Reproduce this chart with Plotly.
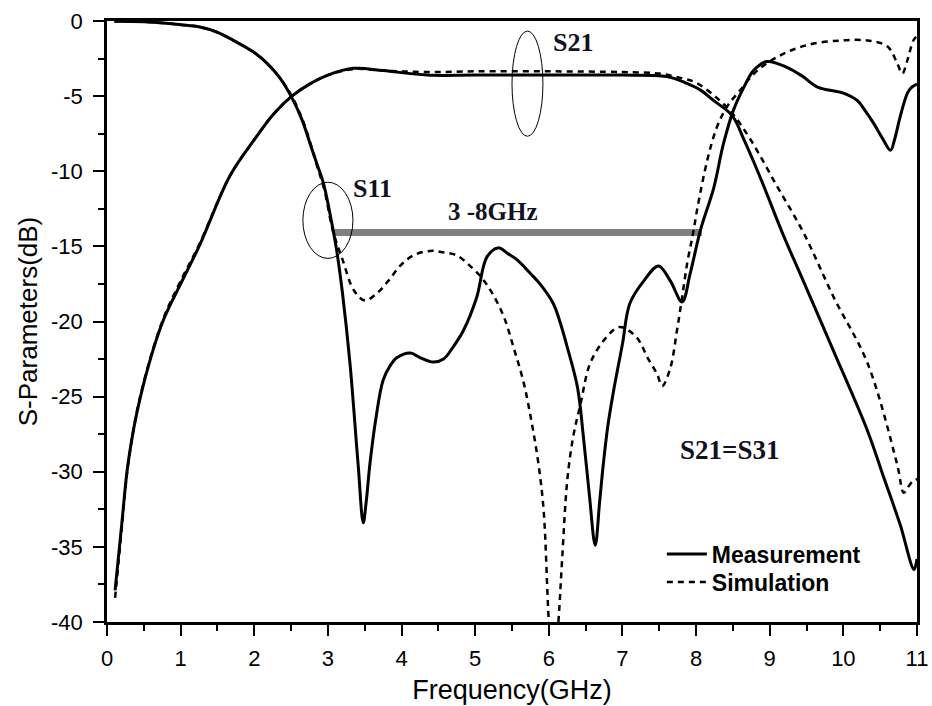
import plotly.graph_objects as go

# ---------------- data ----------------
s21_meas_f = [0.11, 0.2, 0.29, 0.45, 0.75, 1.0, 1.26, 1.67, 2.0, 2.26, 2.51, 2.75, 3.0, 3.35,
              3.75, 4.35, 5.0, 6.0, 7.0, 7.6, 7.85, 8.06, 8.24, 8.49, 8.65, 8.87, 9.18, 9.42, 9.87, 10.33,
              10.55, 10.77, 10.96, 11.0]
s21_meas_db = [-37.9, -33.5, -29.3, -25.1, -20.1, -17.5, -14.9, -10.3, -7.9, -6.2, -5.0, -4.2, -3.6, -3.15,
               -3.3, -3.6, -3.6, -3.6, -3.6, -3.7, -4.1, -4.6, -5.3, -6.3, -7.9, -10.4, -14.2, -16.9, -22.0, -27.3,
               -30.4, -33.5, -36.5, -35.8]

s21_sim_f = [0.11, 0.2, 0.29, 0.45, 0.75, 1.0, 1.26, 1.67, 2.0, 2.26, 2.51, 2.75, 3.0, 3.35, 3.75,
             4.35, 5.0, 6.0, 7.0, 7.5, 7.8, 8.0, 8.3, 8.5, 8.74, 9.1, 9.46, 9.87, 10.33, 10.73, 10.82, 10.88,
             10.95, 11.0]
s21_sim_db = [-38.4, -33.8, -29.4, -25.0, -20.0, -17.3, -14.8, -10.3, -7.9, -6.2, -5.0, -4.2, -3.6, -3.2, -3.3,
              -3.4, -3.35, -3.35, -3.4, -3.5, -3.8, -4.1, -5.2, -6.2, -7.9, -11.0, -14.1, -18.4, -22.8, -29.5, -31.4,
              -31.0, -30.6, -30.5]

s11_meas_f = [0.1, 0.5, 0.8, 1.0, 1.26, 1.5, 1.71, 2.0, 2.17, 2.35, 2.51, 2.65, 2.76, 2.85, 2.94, 3.07, 3.12,
              3.2, 3.3, 3.41, 3.48, 3.52, 3.57, 3.65, 3.75, 3.85, 3.94, 4.12, 4.25, 4.43, 4.57, 4.7, 4.84, 5.02,
              5.16, 5.31, 5.45, 5.57, 5.75, 5.88, 6.06, 6.15, 6.25, 6.39, 6.47, 6.55, 6.63, 6.69, 6.74, 6.8,
              6.88, 7.0, 7.1, 7.29, 7.49, 7.65, 7.81, 7.92, 8.06, 8.24, 8.37, 8.51, 8.65, 8.78, 8.96, 9.24,
              9.45, 9.65, 10.0, 10.19, 10.3, 10.41, 10.53, 10.64, 10.7, 10.77, 10.87, 10.93, 11.0]
s11_meas_db = [-0.02, -0.05, -0.15, -0.25, -0.4, -0.75, -1.27, -2.1, -2.8, -3.8, -5.1, -6.6, -8.2, -9.5, -10.8, -13.9, -15.3,
               -18.2, -22.8, -29.5, -33.4, -32.0, -29.5, -26.5, -23.9, -22.9, -22.4, -22.1, -22.4, -22.7, -22.5, -21.7, -20.6, -18.4,
               -15.7, -15.1, -15.5, -15.9, -16.8, -17.5, -18.8, -20.0, -21.7, -24.4, -27.7, -31.5, -34.9, -32.0, -29.5, -27.0,
               -24.6, -21.5, -18.8, -17.3, -16.3, -17.3, -18.7, -16.8, -13.9, -11.1, -8.2, -5.9, -4.4, -3.3, -2.7, -3.1,
               -3.7, -4.4, -4.8, -5.3, -6.0, -6.8, -7.8, -8.6, -7.8, -6.4, -4.8, -4.4, -4.2]

s11_sim_f = [0.1, 0.5, 0.8, 1.0, 1.26, 1.5, 1.71, 2.0, 2.17, 2.35, 2.51, 2.65, 2.76, 2.85, 2.95, 3.07, 3.2,
             3.35, 3.5, 3.67, 3.82, 3.98, 4.16, 4.39, 4.57, 4.75, 4.93, 5.09, 5.23, 5.39, 5.52, 5.66, 5.77,
             5.86, 5.93, 6.0, 6.06, 6.13, 6.18, 6.25, 6.33, 6.43, 6.56, 6.74, 6.93, 7.01, 7.2, 7.34, 7.47,
             7.54, 7.65, 7.74, 7.81, 7.88, 7.96, 8.02, 8.15, 8.28, 8.42, 8.6, 8.83, 9.14, 9.51, 9.96, 10.33,
             10.6, 10.73, 10.8, 10.87, 10.95, 11.0]
s11_sim_db = [-0.02, -0.05, -0.15, -0.25, -0.4, -0.75, -1.27, -2.1, -2.8, -3.8, -5.0, -6.5, -8.1, -9.6, -11.2, -14.0, -15.9,
              -17.9, -18.6, -18.1, -17.3, -16.3, -15.6, -15.3, -15.4, -15.6, -16.3, -17.1, -18.1, -19.7, -21.7, -24.1, -26.8,
              -29.5, -32.6, -40.0, -44.0, -40.0, -35.9, -30.6, -27.7, -25.5, -22.8, -21.3, -20.4, -20.4, -21.1, -22.4, -23.5,
              -24.3, -23.1, -20.6, -18.4, -16.1, -14.1, -12.4, -9.3, -7.1, -5.7, -4.6, -3.3, -2.3, -1.6, -1.3, -1.3,
              -1.7, -2.8, -3.5, -2.6, -1.3, -1.0]

x_ticks = [0, 1, 2, 3, 4, 5, 6, 7, 8, 9, 10, 11]
y_ticks = [0, -5, -10, -15, -20, -25, -30, -35, -40]
y_tick_labels = ["0", "-5", "-10", "-15", "-20", "-25", "-30", "-35", "-40"]
band_ghz = [3.07, 8.08]
band_level = -14.07

# ---------------- figure ----------------
solid = dict(color="black", width=3)
dashed = dict(color="black", width=2.5, dash="6px,5px")

fig = go.Figure()
fig.add_trace(go.Scatter(x=s21_meas_f, y=s21_meas_db, mode="lines", line=solid, line_shape="spline",
                         name="Measurement", legendgroup="m", showlegend=True, legend="legend"))
fig.add_trace(go.Scatter(x=s11_meas_f, y=s11_meas_db, mode="lines", line=solid, line_shape="spline",
                         name="Measurement", legendgroup="m", showlegend=False, legend="legend"))
fig.add_trace(go.Scatter(x=s21_sim_f, y=s21_sim_db, mode="lines", line=dashed, line_shape="spline",
                         name="Simulation", legendgroup="s", showlegend=True, legend="legend2"))
fig.add_trace(go.Scatter(x=s11_sim_f, y=s11_sim_db, mode="lines", line=dashed, line_shape="spline",
                         name="Simulation", legendgroup="s", showlegend=False, legend="legend2"))

# 3-8 GHz band bar
fig.add_shape(type="line", x0=band_ghz[0], x1=band_ghz[1], y0=band_level, y1=band_level,
              line=dict(color="#808080", width=7), layer="below")
# ellipses
fig.add_shape(type="circle", x0=5.50, x1=5.92, y0=-0.67, y1=-7.67, line=dict(color="black", width=1))
fig.add_shape(type="circle", x0=2.66, x1=3.34, y0=-10.73, y1=-15.8, line=dict(color="black", width=1))

serif = dict(family="Liberation Serif, Times New Roman, serif", color="#111122", weight="bold")
fig.add_annotation(x=6.33, y=-1.4, text="S21", showarrow=False, font=dict(size=26, **serif))
fig.add_annotation(x=3.61, y=-11.13, text="S11", showarrow=False, font=dict(size=26, **serif))
fig.add_annotation(x=5.24, y=-12.67, text="3 -8GHz", showarrow=False, font=dict(size=25, **serif))
fig.add_annotation(x=8.45, y=-28.53, text="S21=S31", showarrow=False, font=dict(size=27, **serif))

sans = "Liberation Sans, Arial, sans-serif"
axis_common = dict(showline=True, linecolor="black", linewidth=2.5, mirror=True, showgrid=False,
                   zeroline=False, ticks="outside", ticklen=11, tickwidth=2, tickcolor="black",
                   automargin=False,
                   tickfont=dict(family=sans, size=22, color="black"))

fig.update_xaxes(range=[0, 11], tickvals=x_ticks, ticktext=[str(v) for v in x_ticks],
                 title=dict(text="Frequency(GHz)", font=dict(family=sans, size=27, color="black"), standoff=10),
                 minor=dict(dtick=0.5, ticks="outside", ticklen=6, tickwidth=2, tickcolor="black"),
                 ticklabelstandoff=4, **axis_common)
fig.update_yaxes(range=[-40, 0], tickvals=y_ticks, ticktext=y_tick_labels,
                 title=dict(text="S-Parameters(dB)", font=dict(family=sans, size=26, color="black"), standoff=6),
                 minor=dict(dtick=2.5, ticks="outside", ticklen=6, tickwidth=2, tickcolor="black"),
                 ticklabelstandoff=6, **axis_common)

legend_font = dict(family=sans, size=23, color="black", weight="bold")
fig.update_layout(
    width=932, height=706,
    margin=dict(l=107, r=15, t=21, b=84),
    plot_bgcolor="white", paper_bgcolor="white",
    showlegend=True,
    legend=dict(x=0.685, y=(622 - 554) / 601, xanchor="left", yanchor="middle",
                bgcolor="rgba(255,255,255,0)", font=legend_font, itemwidth=40),
    legend2=dict(x=0.685, y=(622 - 582) / 601, xanchor="left", yanchor="middle",
                 bgcolor="rgba(255,255,255,0)", font=legend_font, itemwidth=40),
)

fig.write_html("out.html")
